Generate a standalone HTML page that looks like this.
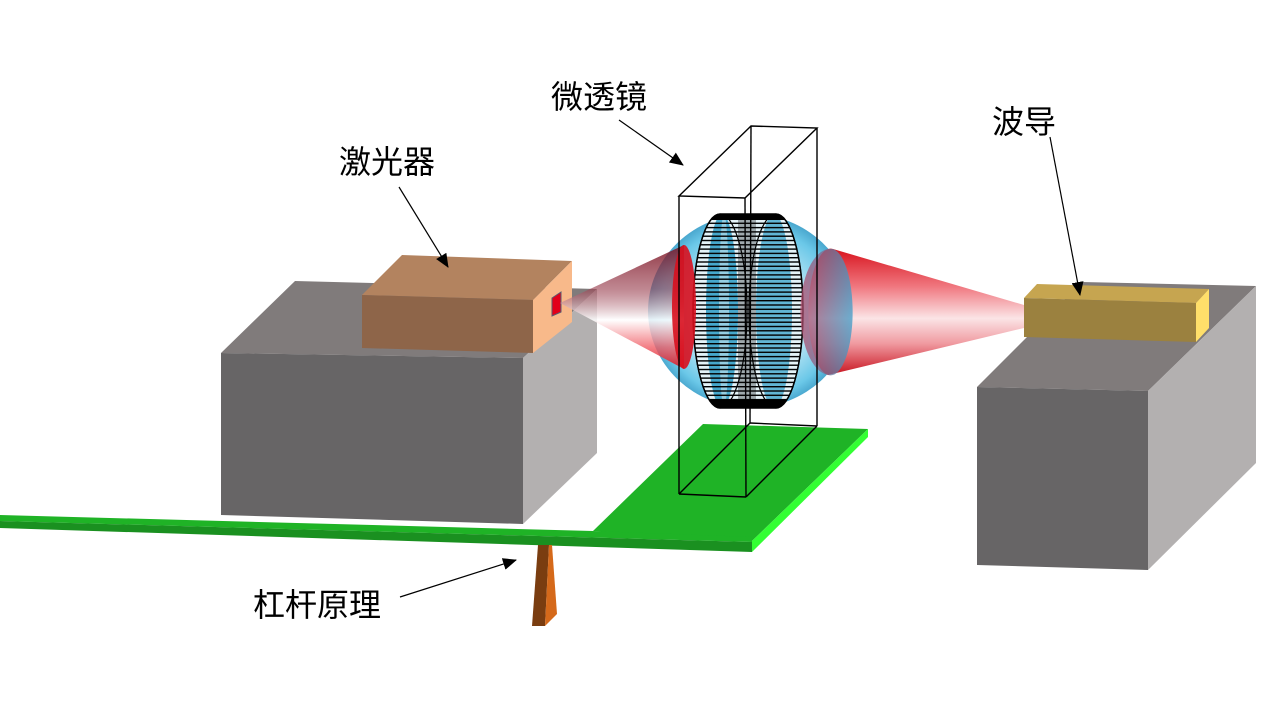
<!DOCTYPE html>
<html><head><meta charset="utf-8"><style>
html,body{margin:0;padding:0;background:#fff;}
svg{display:block;}
text{font-family:"Liberation Sans","Noto Sans CJK SC",sans-serif;font-size:32px;fill:#000;}
</style></head><body>
<svg width="1280" height="720" viewBox="0 0 1280 720" xmlns="http://www.w3.org/2000/svg">
<defs>
<marker id="ah" markerWidth="14" markerHeight="12" refX="13" refY="6" orient="auto" markerUnits="userSpaceOnUse">
<path d="M0,0 L14,6 L0,12 Z" fill="#000"/>
</marker>
<radialGradient id="sph" cx="0.5" cy="0.5" r="0.52" fx="0.48" fy="0.55">
<stop offset="0" stop-color="#eef9fd"/>
<stop offset="0.55" stop-color="#b5e3f3"/>
<stop offset="0.85" stop-color="#5ec3e6"/>
<stop offset="1" stop-color="#2f95c2"/>
</radialGradient>
<linearGradient id="lc" x1="0" y1="245" x2="0" y2="370" gradientUnits="userSpaceOnUse">
<stop offset="0" stop-color="#7a1020" stop-opacity="0.95"/>
<stop offset="0.35" stop-color="#9a4050" stop-opacity="0.7"/>
<stop offset="0.6" stop-color="#ffffff" stop-opacity="0.95"/>
<stop offset="0.82" stop-color="#f06068" stop-opacity="0.9"/>
<stop offset="1" stop-color="#d8101e" stop-opacity="1"/>
</linearGradient>
<linearGradient id="rc" x1="0" y1="249" x2="0" y2="375" gradientUnits="userSpaceOnUse">
<stop offset="0" stop-color="#d8141e"/>
<stop offset="0.3" stop-color="#f07880"/>
<stop offset="0.55" stop-color="#fbe4e6"/>
<stop offset="0.75" stop-color="#f09aa0"/>
<stop offset="1" stop-color="#c81420"/>
</linearGradient>
<linearGradient id="cap" x1="0" y1="0" x2="1" y2="0">
<stop offset="0" stop-color="#b04868"/>
<stop offset="1" stop-color="#3c9cc8"/>
</linearGradient>
<pattern id="stripes" x="0" y="214" width="20" height="4.3" patternUnits="userSpaceOnUse">
<rect x="0" y="0" width="20" height="1.4" fill="#000"/>
</pattern>
<clipPath id="cyl">
<path d="M720,214 L776,214 A27,97 0 0 1 776,408 L720,408 A27,97 0 0 1 720,214 Z"/>
</clipPath>
</defs>

<!-- left gray box -->
<polygon points="221,353 295,281 597,289 523,358" fill="#807b7b"/>
<polygon points="523,358 597,289 597,453 523,524" fill="#b3b0b0"/>
<polygon points="221,353 523,358 523,524 221,515" fill="#676566"/>

<!-- laser -->
<polygon points="362,295 402,255 572,261 533,300" fill="#b3835f"/>
<polygon points="533,300 572,261 572,322 533,353" fill="#f8b98a"/>
<polygon points="362,295 533,300 533,353 362,348" fill="#8e6549"/>
<polygon points="552,298 561,292 561,312 552,316" fill="#e2001a" stroke="#5a5a70" stroke-width="1"/>

<!-- right gray box -->
<polygon points="977,387 1082,282 1256,286 1148,391" fill="#807b7b"/>
<polygon points="1148,391 1256,286 1256,463 1148,570" fill="#b3b0b0"/>
<polygon points="977,387 1148,391 1148,570 977,565" fill="#676566"/>

<!-- green platform and bar -->
<polygon points="593,531 703,424 868,429 752,541" fill="#1fb326"/>
<polygon points="868,429 868,437 752,552 752,541" fill="#33ff33"/>
<polygon points="0,515 593,531 752,537 752,542 0,521" fill="#1fb326"/>
<polygon points="0,521 752,542 752,552 0,528" fill="#1a9020"/>

<!-- stand -->
<polygon points="538,545 549,545 545,626 532,626" fill="#7a3d10"/>
<polygon points="549,545 552,545 557,614 545,626" fill="#d5691a"/>

<!-- wireframe back/bottom lines (behind) -->
<g stroke="#000" stroke-width="1.4" fill="none">
<line x1="679" y1="494" x2="746" y2="497"/>
<line x1="746" y1="497" x2="817" y2="426"/>
<line x1="679" y1="494" x2="750" y2="423"/>
<line x1="750" y1="423" x2="817" y2="426"/>
</g>

<!-- sphere -->
<ellipse cx="750" cy="311" rx="102" ry="97" fill="url(#sph)" opacity="0.92"/>

<!-- cylinder -->
<g clip-path="url(#cyl)">
<rect x="690" y="210" width="120" height="200" fill="#e4f3f8"/>
<ellipse cx="722" cy="311" rx="16" ry="97" fill="#2a9ac4" opacity="0.85"/>
<ellipse cx="724" cy="311" rx="5" ry="97" fill="#e4f3f8" opacity="0.5"/>
<ellipse cx="774" cy="311" rx="18" ry="97" fill="#2a9ac4" opacity="0.7"/>
<rect x="738" y="214" width="18" height="194" fill="#000" opacity="0.3"/>
<rect x="690" y="210" width="120" height="200" fill="url(#stripes)"/>
<rect x="690" y="210" width="120" height="10" fill="#000"/>
<rect x="690" y="400" width="120" height="10" fill="#000"/>
</g>
<path d="M720,214 L776,214 A27,97 0 0 1 776,408 L720,408 A27,97 0 0 1 720,214 Z" fill="none" stroke="#000" stroke-width="1.5"/>
<ellipse cx="720" cy="311" rx="27" ry="97" fill="none" stroke="#000" stroke-width="1.2"/>
<ellipse cx="776" cy="311" rx="27" ry="97" fill="none" stroke="#000" stroke-width="1.2"/>

<!-- left cone -->
<path d="M560,303 L684,245 L684,369 Z" fill="url(#lc)" opacity="0.9"/>
<ellipse cx="684" cy="307" rx="12" ry="62" fill="#d8101e" opacity="0.9"/>

<!-- right cone -->
<path d="M833,249 L1024,305 L1024,328 L828,375 A22,63 0 0 1 833,249 Z" fill="url(#rc)"/>
<path d="M833,249 A22,63 0 0 1 828,375 A30,63 0 0 1 833,249 Z" fill="url(#cap)" opacity="0.75"/>

<!-- waveguide -->
<polygon points="1024,298 1037,284 1209,289 1196,303" fill="#c6a550"/>
<polygon points="1196,303 1209,289 1209,328 1196,342" fill="#ffdf6a"/>
<polygon points="1024,298 1196,303 1196,342 1024,337" fill="#9b813f"/>

<!-- wireframe front lines -->
<g stroke="#000" stroke-width="1.4" fill="none">
<polygon points="679,196 751,126 817,128 745,198"/>
<line x1="679" y1="196" x2="679" y2="494"/>
<line x1="745" y1="198" x2="746" y2="497"/>
<line x1="817" y1="128" x2="817" y2="426"/>
<line x1="751" y1="126" x2="750" y2="423"/>
</g>

<!-- arrows -->
<g stroke="#000" stroke-width="1.2" fill="none">
<line x1="399" y1="187" x2="448" y2="267" marker-end="url(#ah)"/>
<line x1="619" y1="120" x2="683" y2="165" marker-end="url(#ah)"/>
<line x1="1050" y1="137" x2="1080" y2="295" marker-end="url(#ah)"/>
<line x1="400" y1="597" x2="516" y2="560" marker-end="url(#ah)"/>
</g>

<!-- labels -->
<text x="339" y="173">激光器</text>
<text x="551" y="108">微透镜</text>
<text x="992" y="133">波导</text>
<text x="253" y="616">杠杆原理</text>
</svg>
</body></html>
